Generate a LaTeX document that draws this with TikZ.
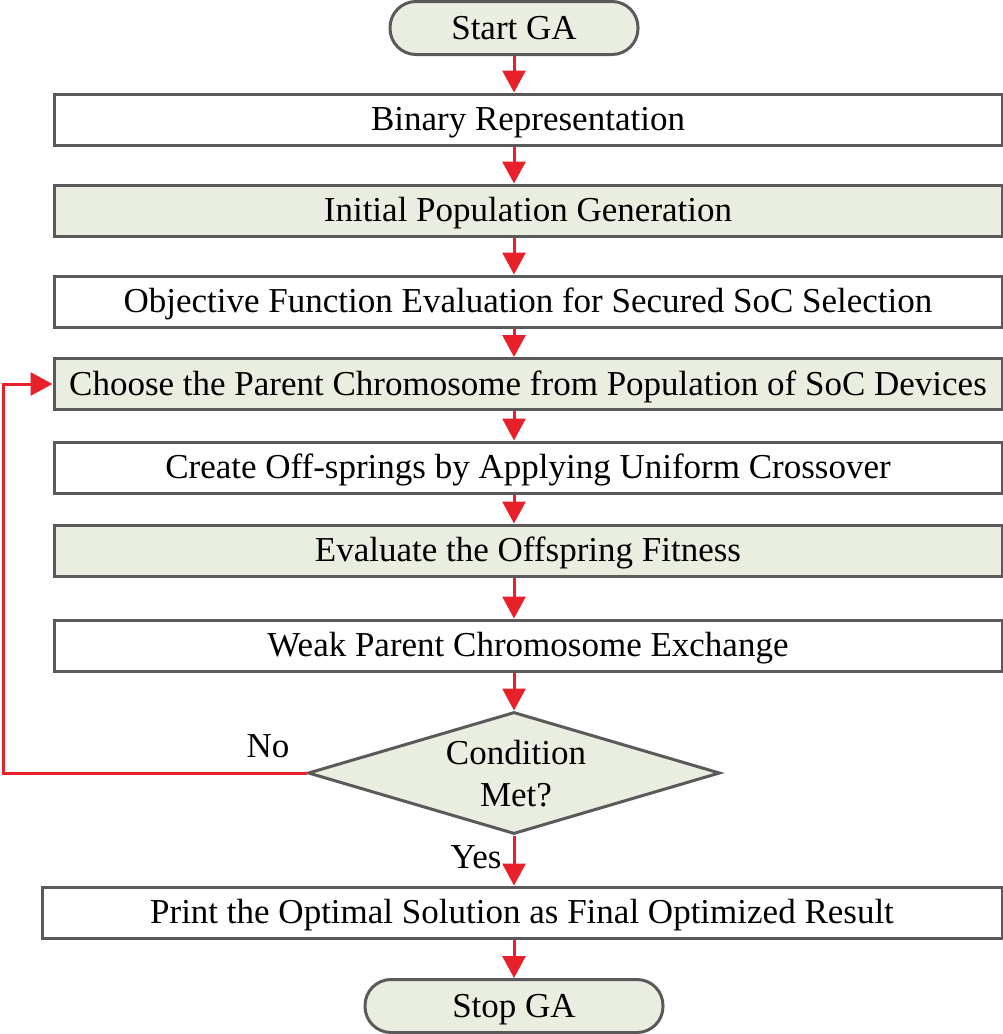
\documentclass[tikz,border=0pt]{standalone}
\usepackage{fontspec}
\setmainfont{Liberation Serif}
\usetikzlibrary{arrows.meta,shapes.geometric}
\definecolor{boxfill}{HTML}{E9EEE0}
\definecolor{boxline}{HTML}{5A5A5A}
\definecolor{arrred}{HTML}{E8202A}
\tikzset{
  base/.style={draw=boxline,line width=3pt,font=\fontsize{35}{42}\selectfont,text=black,inner sep=0pt,align=center},
  boxtext/.style={text height=26pt,text depth=4pt},
  whitebox/.style={base,boxtext,fill=white,minimum width=948pt,minimum height=51pt},
  greenbox/.style={base,boxtext,fill=boxfill,minimum width=948pt,minimum height=51pt},
  terminal/.style={base,boxtext,fill=boxfill,rounded corners=26pt,minimum height=53pt},
  decision/.style={base,fill=boxfill,diamond,aspect=3.38,minimum width=412pt,minimum height=122pt},
  flow/.style={draw=arrred,line width=3pt,-{Triangle[length=22pt,width=23pt]}},
  lbl/.style={font=\fontsize{35}{42}\selectfont,inner sep=0pt}
}
\begin{document}
\begin{tikzpicture}[x=1pt,y=-1pt]
\useasboundingbox (0,0) rectangle (1003,1034);
\node[terminal,minimum width=248pt] (start) at (514,28) {Start GA};
\node[whitebox] (binrep) at (528,119.5) {Binary Representation};
\node[greenbox] (initpop) at (528,210.5) {Initial Population Generation};
\node[whitebox] (objfun) at (528,301.5) {Objective Function Evaluation for Secured SoC Selection};
\node[greenbox] (choose) at (528,384) {Choose the Parent Chromosome from Population of SoC Devices};
\node[whitebox] (create) at (528,467.5) {Create Off-springs by Applying Uniform Crossover};
\node[greenbox] (evalfit) at (528,550.5) {Evaluate the Offspring Fitness};
\node[whitebox] (weak) at (528,645.5) {Weak Parent Chromosome Exchange};
\node[decision] (cond) at (514,773) {};
\node[lbl,align=center] (condtxt) at (516,774) {Condition\\Met?};
\node[whitebox,minimum width=960pt] (print) at (522,912.5) {Print the Optimal Solution as Final Optimized Result};
\node[terminal,minimum width=298pt] (stop) at (514,1006) {Stop GA};
\coordinate (loopbot) at (3,773);
\coordinate (looptop) at (3,384);
\node[lbl] (nolbl) at (268,746) {No};
\node[lbl] (yeslbl) at (476,857) {Yes};
\draw[flow] (start.south) -- (start.south |- binrep.north);
\draw[flow] (start.south |- binrep.south) -- (start.south |- initpop.north);
\draw[flow] (start.south |- initpop.south) -- (start.south |- objfun.north);
\draw[flow] (start.south |- objfun.south) -- (start.south |- choose.north);
\draw[flow] (start.south |- choose.south) -- (start.south |- create.north);
\draw[flow] (start.south |- create.south) -- (start.south |- evalfit.north);
\draw[flow] (start.south |- evalfit.south) -- (start.south |- weak.north);
\draw[flow] (start.south |- weak.south) -- (cond.north);
\draw[flow] (cond.south) -- (cond.south |- print.north);
\draw[flow] (start.south |- print.south) -- (stop.north);
\draw[flow] (cond.west) -- (loopbot) -- (looptop) -- (choose.west);
\end{tikzpicture}
\end{document}
